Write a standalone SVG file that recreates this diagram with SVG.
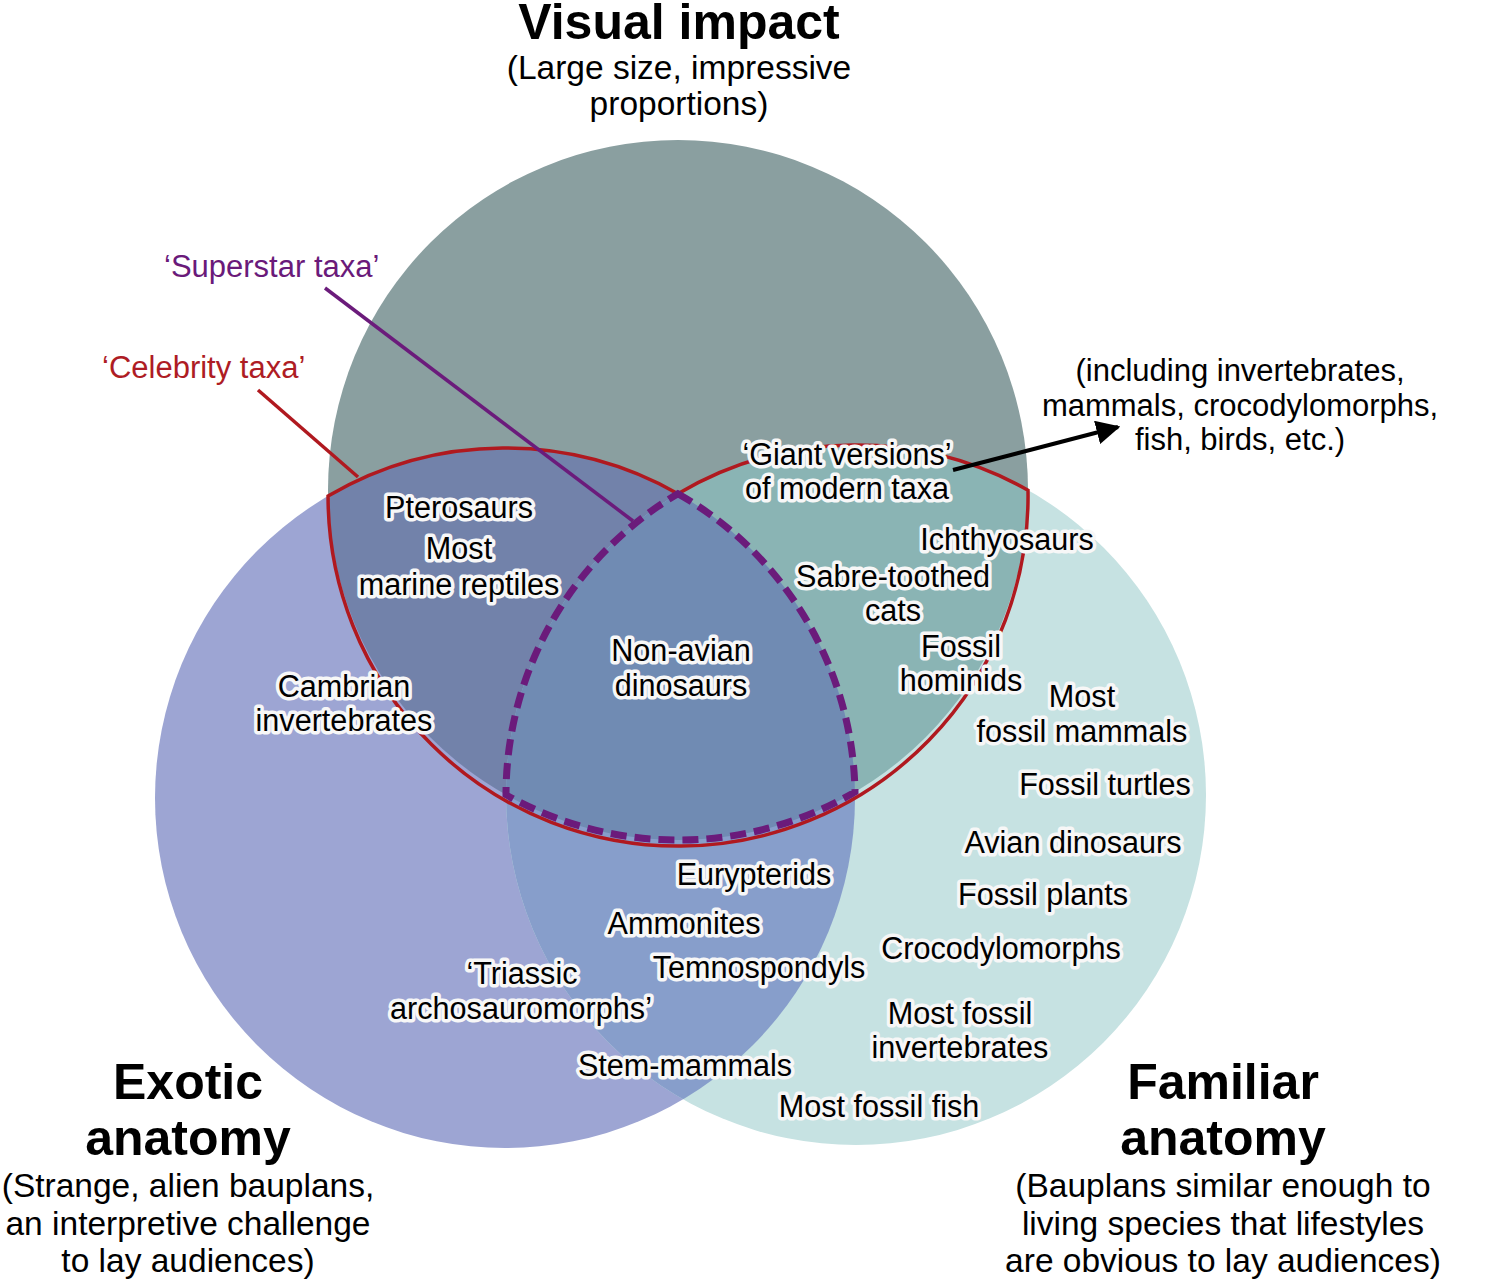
<svg xmlns="http://www.w3.org/2000/svg" width="1508" height="1281" viewBox="0 0 1508 1281">
<style>
text{font-family:"Liberation Sans",Arial,sans-serif;text-anchor:middle;fill:#000}
.lbl{font-size:30.6px;stroke:#f7f7f7;stroke-width:7;stroke-linejoin:round;paint-order:stroke}
.title{font-size:50px;font-weight:bold}
.sub{font-size:33.5px}
.note{font-size:31px;stroke:#ffffff;stroke-width:5;stroke-linejoin:round;paint-order:stroke}
.celeb{font-size:31px;fill:#ae1c24;text-anchor:start}
.super{font-size:31px;fill:#6a1a7a;text-anchor:start}
</style>
<defs>
<clipPath id="cT"><circle cx="678" cy="490" r="350"/></clipPath>
<clipPath id="cL"><circle cx="505" cy="798" r="350"/></clipPath>
<marker id="arr" viewBox="0 0 10 10" refX="9" refY="5" markerWidth="6" markerHeight="6" markerUnits="strokeWidth" orient="auto">
<path d="M0,0 L10,5 L0,10 Z" fill="#000"/>
</marker>
</defs>
<g id="sets">
<circle id="set-visual" cx="678" cy="490" r="350" fill="#8a9fa0"/>
<circle id="set-exotic" cx="505" cy="798" r="350" fill="#9da5d3"/>
<circle id="set-familiar" cx="856" cy="795" r="350" fill="#c6e2e2"/>
<g clip-path="url(#cT)"><circle cx="505" cy="798" r="350" fill="#7282aa"/></g>
<g clip-path="url(#cT)"><circle cx="856" cy="795" r="350" fill="#8ab4b4"/></g>
<g clip-path="url(#cL)"><circle cx="856" cy="795" r="350" fill="#879ecb"/></g>
<g clip-path="url(#cT)"><g clip-path="url(#cL)"><circle cx="856" cy="795" r="350" fill="#708bb3"/></g></g>
</g>
<g id="connectors" fill="none">
<path id="celebrity-outline" d="M328.05,496.03 A350,350 0 0 1 677.9,493.7 A350,350 0 0 1 1028,490.2 A350,350 0 1 1 328.05,496.03 Z" stroke="#b0191f" stroke-width="3.5"/>
<path id="superstar-outline" d="M677.9,493.7 A350,350 0 0 1 855,792 A350,350 0 0 1 506,794.8 A350,350 0 0 1 677.9,493.7 Z" stroke="#6b1b7b" stroke-width="7" stroke-dasharray="16 8"/>
<line x1="258" y1="390" x2="358" y2="477" stroke="#b0191f" stroke-width="3.5"/>
<line x1="325" y1="288" x2="633" y2="521" stroke="#6b1b7b" stroke-width="3.5"/>
<line x1="953" y1="470" x2="1118" y2="427" stroke="#000" stroke-width="4" marker-end="url(#arr)"/>
</g>
<g id="heading-visual">
<text class="title" x="679" y="39">Visual impact</text>
<text class="sub" x="679" y="79">(Large size, impressive</text>
<text class="sub" x="679" y="115">proportions)</text>
</g>
<g id="heading-exotic">
<text class="title" x="188" y="1099">Exotic</text>
<text class="title" x="188" y="1155">anatomy</text>
<text class="sub" x="188" y="1197">(Strange, alien bauplans,</text>
<text class="sub" x="188" y="1235">an interpretive challenge</text>
<text class="sub" x="188" y="1272">to lay audiences)</text>
</g>
<g id="heading-familiar">
<text class="title" x="1223" y="1099">Familiar</text>
<text class="title" x="1223" y="1155">anatomy</text>
<text class="sub" x="1223" y="1197">(Bauplans similar enough to</text>
<text class="sub" x="1223" y="1235">living species that lifestyles</text>
<text class="sub" x="1223" y="1272">are obvious to lay audiences)</text>
</g>
<g id="label-superstar"><text class="super" x="164" y="277">‘Superstar taxa’</text></g>
<g id="label-celebrity"><text class="celeb" x="102" y="378">‘Celebrity taxa’</text></g>
<g id="note-including">
<text class="note" x="1240" y="381">(including invertebrates,</text>
<text class="note" x="1240" y="416">mammals, crocodylomorphs,</text>
<text class="note" x="1240" y="450">fish, birds, etc.)</text>
</g>
<g id="n-pterosaurs"><text class="lbl" x="459" y="518">Pterosaurs</text></g>
<g id="n-marine"><text class="lbl" x="459" y="559">Most</text><text class="lbl" x="459" y="595">marine reptiles</text></g>
<g id="n-cambrian"><text class="lbl" x="344" y="697">Cambrian</text><text class="lbl" x="344" y="731">invertebrates</text></g>
<g id="n-nonavian"><text class="lbl" x="681" y="661">Non-avian</text><text class="lbl" x="681" y="696">dinosaurs</text></g>
<g id="n-giant"><text class="lbl" x="847" y="465">‘Giant versions’</text><text class="lbl" x="847" y="499">of modern taxa</text></g>
<g id="n-ichthyosaurs"><text class="lbl" x="1007" y="550">Ichthyosaurs</text></g>
<g id="n-sabre"><text class="lbl" x="893" y="587">Sabre-toothed</text><text class="lbl" x="893" y="621">cats</text></g>
<g id="n-hominids"><text class="lbl" x="961" y="657">Fossil</text><text class="lbl" x="961" y="691">hominids</text></g>
<g id="n-mammals"><text class="lbl" x="1082" y="707">Most</text><text class="lbl" x="1082" y="742">fossil mammals</text></g>
<g id="n-turtles"><text class="lbl" x="1105" y="795">Fossil turtles</text></g>
<g id="n-avian"><text class="lbl" x="1073" y="853">Avian dinosaurs</text></g>
<g id="n-plants"><text class="lbl" x="1043" y="905">Fossil plants</text></g>
<g id="n-croc"><text class="lbl" x="1001" y="959">Crocodylomorphs</text></g>
<g id="n-inverts"><text class="lbl" x="960" y="1024">Most fossil</text><text class="lbl" x="960" y="1058">invertebrates</text></g>
<g id="n-fish"><text class="lbl" x="879" y="1117">Most fossil fish</text></g>
<g id="n-eurypterids"><text class="lbl" x="754" y="885">Eurypterids</text></g>
<g id="n-ammonites"><text class="lbl" x="684" y="934">Ammonites</text></g>
<g id="n-temno"><text class="lbl" x="759" y="978">Temnospondyls</text></g>
<g id="n-triassic"><text class="lbl" x="522" y="984">‘Triassic</text><text class="lbl" x="521" y="1019">archosauromorphs’</text></g>
<g id="n-stem"><text class="lbl" x="685" y="1076">Stem-mammals</text></g>
</svg>
